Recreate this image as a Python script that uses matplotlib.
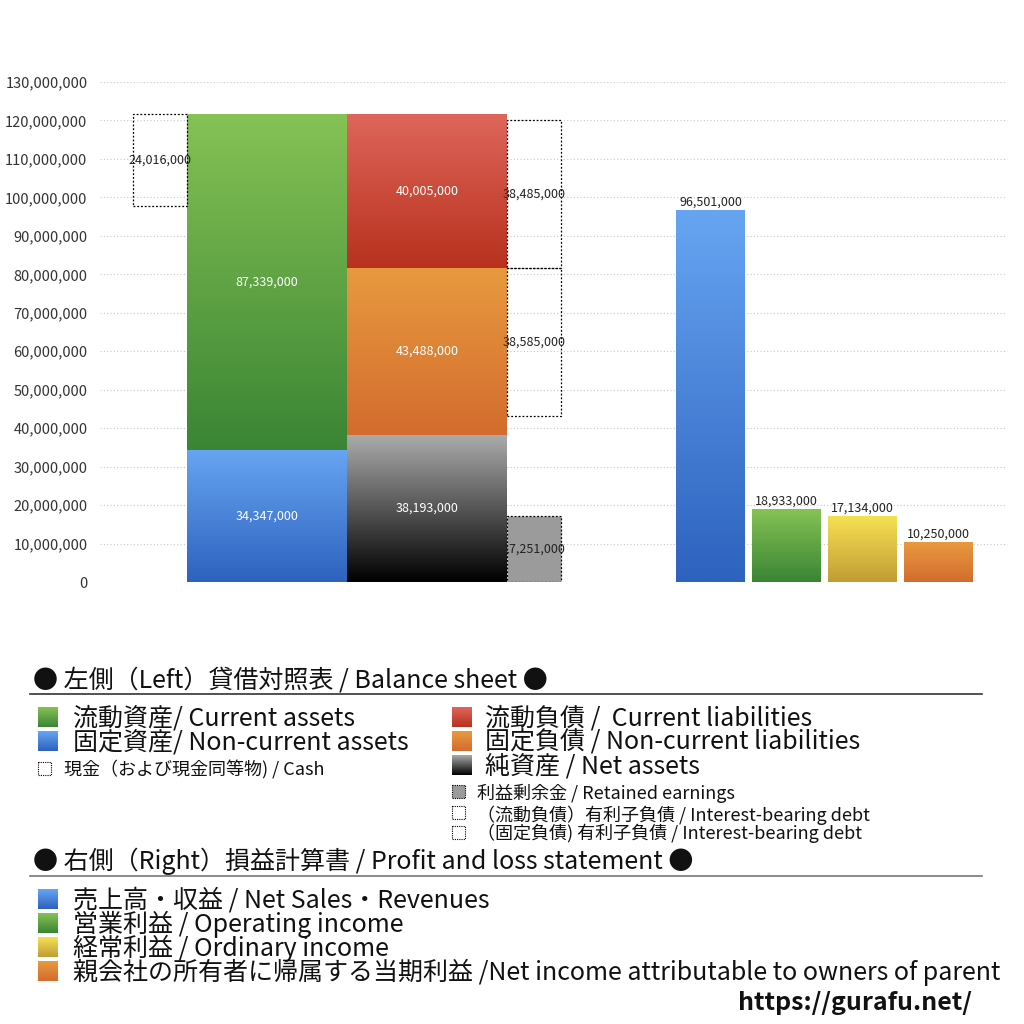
import numpy as np
import matplotlib
matplotlib.use("Agg")
import matplotlib.pyplot as plt
from matplotlib.patches import Rectangle
from matplotlib.colors import to_rgb

plt.rcParams['font.family'] = ['Noto Sans CJK JP', 'DejaVu Sans']

# ---------------- data ----------------
cash = 24016000
current_assets = 87339000
noncurrent_assets = 34347000
current_liabilities = 40005000
noncurrent_liabilities = 43488000
net_assets = 38193000
retained_earnings = 17251000
ibd_current = 38485000
ibd_noncurrent = 38585000

pl_labels = ["売上高・収益", "営業利益", "経常利益", "親会社の所有者に帰属する当期利益"]
pl_values = [96501000, 18933000, 17134000, 10250000]

yticks = list(range(0, 130000001, 10000000))

# ---------------- styles ----------------
C_GREEN = ("#86c255", "#3a8534")
C_BLUE = ("#67a5f2", "#2d62be")
C_RED = ("#de665b", "#b8311d")
C_ORANGE = ("#e89a3f", "#d36c2e")
C_BLACK = ("#ababab", "#000000")
C_YELLOW = ("#f6e152", "#c29c35")
pl_colors = [C_BLUE, C_GREEN, C_YELLOW, C_ORANGE]


def grad(ax, x0, x1, y0, y1, cols, zorder=2):
    top, bot = np.array(to_rgb(cols[0])), np.array(to_rgb(cols[1]))
    t = np.linspace(0, 1, 256)[:, None, None]
    img = bot + (top - bot) * t
    ax.imshow(img, extent=(x0, x1, y0, y1), origin='lower', aspect='auto',
              interpolation='bilinear', zorder=zorder)


def fmt(v):
    return f"{v:,}"


fig = plt.figure(figsize=(10.24, 10.24), dpi=100)
W = H = 1024.0
ax = fig.add_axes([100 / W, 1 - 582 / H, 905 / W, 500 / H])
ax.set_xlim(100, 1005)
ax.set_ylim(0, 130000000)
for s in ax.spines.values():
    s.set_visible(False)
ax.set_xticks([])
ax.set_yticks(yticks)
ax.set_yticklabels([fmt(v) for v in yticks], fontsize=10.5, color="#333333")
ax.tick_params(axis='y', length=0, pad=9)
for v in yticks:
    ax.axhline(v, color="#c8c8c8", lw=0.8, ls=(0, (1, 2)), zorder=0)

# --- balance sheet (layout positions in axis units) ---
xa0, xa1 = 187, 347      # assets column
xl0, xl1 = 347, 507      # liabilities column
xc0, xc1 = 133, 187      # cash box
xr0, xr1 = 507, 561      # right side dashed boxes

total = current_assets + noncurrent_assets
grad(ax, xa0, xa1, 0, noncurrent_assets, C_BLUE)
grad(ax, xa0, xa1, noncurrent_assets, total, C_GREEN)
grad(ax, xl0, xl1, 0, net_assets, C_BLACK)
grad(ax, xl0, xl1, net_assets, net_assets + noncurrent_liabilities, C_ORANGE)
top_liab = net_assets + noncurrent_liabilities + current_liabilities
grad(ax, xl0, xl1, net_assets + noncurrent_liabilities, top_liab, C_RED)

lab_kw = dict(ha='center', va='center', fontsize=9, zorder=5)
ax.text((xa0 + xa1) / 2, noncurrent_assets / 2, fmt(noncurrent_assets), color='white', **lab_kw)
ax.text((xa0 + xa1) / 2, noncurrent_assets + current_assets / 2, fmt(current_assets), color='white', **lab_kw)
ax.text((xl0 + xl1) / 2, net_assets / 2, fmt(net_assets), color='white', **lab_kw)
ax.text((xl0 + xl1) / 2, net_assets + noncurrent_liabilities / 2, fmt(noncurrent_liabilities), color='white', **lab_kw)
ax.text((xl0 + xl1) / 2, net_assets + noncurrent_liabilities + current_liabilities / 2,
        fmt(current_liabilities), color='white', **lab_kw)

dash = (0, (1.5, 1.5))
# cash box
ax.add_patch(Rectangle((xc0, total - cash), xc1 - xc0, cash, fill=False,
                       ec='black', lw=0.9, ls=dash, zorder=4))
ax.text((xc0 + xc1) / 2, total - cash / 2, fmt(cash), color='#222222', **lab_kw)
# retained earnings
ax.add_patch(Rectangle((xr0, 0), xr1 - xr0, retained_earnings, fc='#9b9b9b',
                       ec='black', lw=0.9, ls=dash, zorder=4))
ax.text((xr0 + xr1) / 2, retained_earnings / 2, fmt(retained_earnings), color='#222222', **lab_kw)
# interest-bearing debt
split = net_assets + noncurrent_liabilities
ax.add_patch(Rectangle((xr0, split), xr1 - xr0, ibd_current, fill=False,
                       ec='black', lw=0.9, ls=dash, zorder=4))
ax.text((xr0 + xr1) / 2, split + ibd_current / 2, fmt(ibd_current), color='#222222', **lab_kw)
ax.add_patch(Rectangle((xr0, split - ibd_noncurrent), xr1 - xr0, ibd_noncurrent, fill=False,
                       ec='black', lw=0.9, ls=dash, zorder=4))
ax.text((xr0 + xr1) / 2, split - ibd_noncurrent / 2, fmt(ibd_noncurrent), color='#222222', **lab_kw)

# --- P&L bars ---
pl_x0 = 676
pl_w = 69
pl_step = 76
for i, (v, c) in enumerate(zip(pl_values, pl_colors)):
    x0 = pl_x0 + i * pl_step
    grad(ax, x0, x0 + pl_w, 0, v, c)
    ax.text(x0 + pl_w / 2, v + 500000, fmt(v), ha='center', va='bottom',
            fontsize=9, color='#222222', zorder=5)

# ---------------- legend overlay (pixel coords) ----------------
lg = fig.add_axes([0, 0, 1, 1], zorder=10)
lg.set_xlim(0, W)
lg.set_ylim(H, 0)
lg.axis('off')
lg.patch.set_alpha(0)


def sq(x, y, s, cols=None, face=None, dotted=False):
    if cols is not None:
        top, bot = np.array(to_rgb(cols[0])), np.array(to_rgb(cols[1]))
        t = np.linspace(0, 1, 64)[:, None, None]
        img = top + (bot - top) * t
        lg.imshow(img, extent=(x, x + s, y + s, y), aspect='auto', interpolation='bilinear')
    elif face is not None:
        lg.add_patch(Rectangle((x, y), s, s, fc=face, ec='black', lw=0.8, ls=(0, (1, 1))))
    if dotted and face is None:
        lg.add_patch(Rectangle((x, y), s, s, fill=False, ec='black', lw=0.8, ls=(0, (1, 1))))


big = 18
small = 13
lg.text(33, 681, "● 左側（Left）貸借対照表 / Balance sheet ●", fontsize=big, va='center', color='#111111')
lg.plot([30, 982], [694, 694], color='#333333', lw=1.2)

sq(38, 707, 20, C_GREEN)
lg.text(73, 718, "流動資産/ Current assets", fontsize=big, va='center', color='#111111')
sq(38, 731, 20, C_BLUE)
lg.text(73, 742, "固定資産/ Non-current assets", fontsize=big, va='center', color='#111111')
sq(38, 762, 13, dotted=True)
lg.text(64, 770, "現金（および現金同等物) / Cash", fontsize=small, va='center', color='#111111')

sq(452, 707, 20, C_RED)
lg.text(485, 718, "流動負債 /  Current liabilities", fontsize=big, va='center', color='#111111')
sq(452, 731, 20, C_ORANGE)
lg.text(485, 742, "固定負債 / Non-current liabilities", fontsize=big, va='center', color='#111111')
sq(452, 755, 20, C_BLACK)
lg.text(485, 766, "純資産 / Net assets", fontsize=big, va='center', color='#111111')
sq(452, 785, 13, face='#9b9b9b')
lg.text(477, 793, "利益剰余金 / Retained earnings", fontsize=small, va='center', color='#111111')
sq(452, 806, 13, dotted=True)
lg.text(477, 815, "（流動負債）有利子負債 / Interest-bearing debt", fontsize=small, va='center', color='#111111')
sq(452, 826, 13, dotted=True)
lg.text(477, 833, "（固定負債) 有利子負債 / Interest-bearing debt", fontsize=small, va='center', color='#111111')

lg.text(33, 861, "● 右側（Right）損益計算書 / Profit and loss statement ●", fontsize=big, va='center', color='#111111')
lg.plot([30, 982], [876, 876], color='#777777', lw=1.2)

pl_en = ["Net Sales・Revenues", "Operating income", "Ordinary income",
         "Net income attributable to owners of parent"]
seps = [" / ", " / ", " / ", " /"]
for i, (jp, en, c, sp) in enumerate(zip(pl_labels, pl_en, pl_colors, seps)):
    y = 889 + i * 24
    sq(38, y, 20, c)
    lg.text(73, y + 11, jp + sp + en, fontsize=big, va='center', color='#111111')

lg.text(972, 1003, "https://gurafu.net/", fontsize=18, fontweight='bold', ha='right', va='center', color='#111111')

fig.savefig("out.png", dpi=100)
